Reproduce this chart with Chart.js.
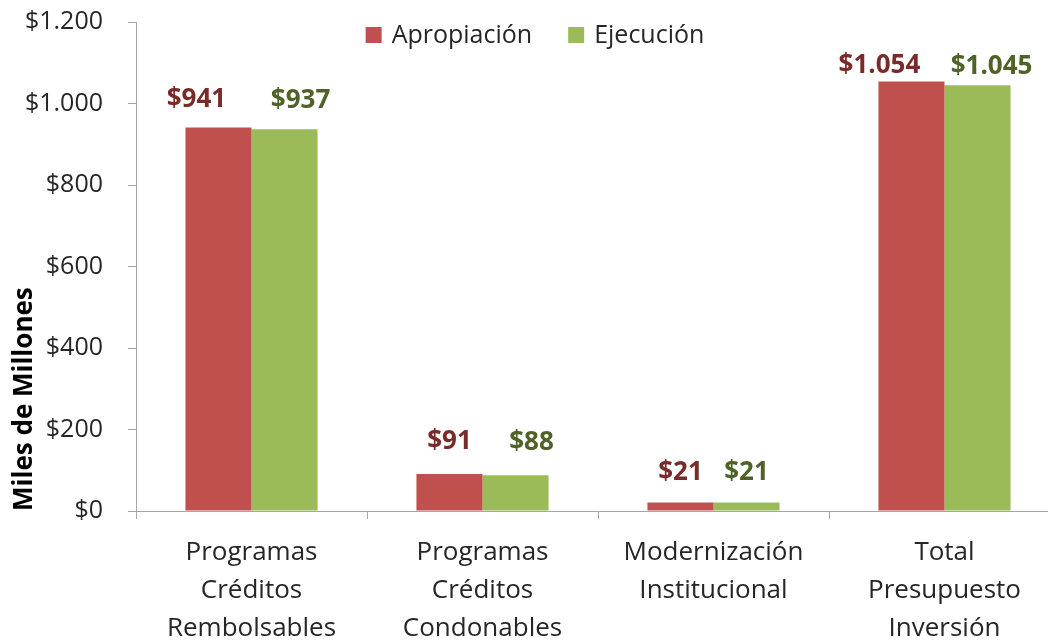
<!DOCTYPE html>
<html lang="es">
<head>
  <meta charset="UTF-8">
  <title>Apropiación vs Ejecución</title>
  <script src="https://cdn.jsdelivr.net/npm/chart.js"></script>
  <style>
    html, body { margin: 0; padding: 0; background: #fff; overflow: hidden; }
    #wrap { width: 1064px; height: 643px; }
  </style>
</head>
<body>
  <div id="wrap"><canvas id="grafico" width="1064" height="643"></canvas></div>

  <script>
    // Datos (miles de millones)
    const categorias = [
      ["Programas", "Créditos", "Rembolsables"],
      ["Programas", "Créditos", "Condonables"],
      ["Modernización", "Institucional"],
      ["Total", "Presupuesto", "Inversión"]
    ];
    const series = ["Apropiación", "Ejecución"];
    const apropiacion = [941, 91, 21, 1054];
    const ejecucion = [937, 88, 21, 1045];
    const ticksY = [0, 200, 400, 600, 800, 1000, 1200];

    const fuente = '"Open Sans", "DejaVu Sans", sans-serif';
    const colores = ["#C0504D", "#9BBB59"];
    const coloresEtiqueta = ["#772C2A", "#4F6228"];

    function pesos(n) {
      return "$" + String(n).replace(/\B(?=(\d{3})+(?!\d))/g, ".");
    }

    // etiquetas de valor encima de cada barra (desplazadas a mano como en el original)
    const etiquetas = {
      id: "etiquetas",
      afterDatasetsDraw(chart, args, opts) {
        const ctx = chart.ctx;
        ctx.save();
        ctx.font = "bold 26px " + fuente;
        ctx.textAlign = "center";
        ctx.textBaseline = "middle";
        chart.data.datasets.forEach((ds, i) => {
          const meta = chart.getDatasetMeta(i);
          meta.data.forEach((bar, j) => {
            const d = opts.desplazar[i][j];
            ctx.fillStyle = coloresEtiqueta[i];
            ctx.fillText(pesos(ds.data[j]), bar.x + d[0], bar.y - 30 + d[1]);
          });
        });
        ctx.restore();
      }
    };

    // leyenda propia (superpuesta al área del gráfico)
    const leyenda = {
      id: "leyenda",
      afterDraw(chart, args, opts) {
        const ctx = chart.ctx;
        ctx.save();
        ctx.font = "25px " + fuente;
        ctx.textBaseline = "middle";
        const caja = 16, sep = 10, hueco = 36;
        const anchos = chart.data.datasets.map(ds => caja + sep + ctx.measureText(ds.label).width);
        const total = anchos.reduce((a, b) => a + b, 0) + hueco * (anchos.length - 1);
        let x = opts.centroX - total / 2;
        chart.data.datasets.forEach((ds, i) => {
          ctx.fillStyle = ds.backgroundColor;
          ctx.fillRect(x, opts.y - caja / 2, caja, caja);
          ctx.fillStyle = "#262626";
          ctx.fillText(ds.label, x + caja + sep, opts.y + 1);
          x += anchos[i] + hueco;
        });
        ctx.restore();
      }
    };

    const ctx = document.getElementById("grafico").getContext("2d");
    new Chart(ctx, {
      type: "bar",
      data: {
        labels: categorias,
        datasets: [
          { label: series[0], data: apropiacion, backgroundColor: colores[0] },
          { label: series[1], data: ejecucion, backgroundColor: colores[1] }
        ]
      },
      options: {
        responsive: false,
        animation: false,
        layout: { padding: { top: 22, right: 4, left: 0, bottom: 0 } },
        datasets: { bar: { categoryPercentage: 0.572, barPercentage: 1 } },
        plugins: {
          legend: { display: false },
          tooltip: { enabled: false },
          leyenda: { centroX: 535, y: 35 },
          etiquetas: {
            desplazar: [
              [[-22, 2], [0, -2], [0, 0], [-32, 14]],
              [[16, 1], [16, -3], [0, 0], [14, 11]]
            ]
          }
        },
        scales: {
          x: {
            border: { color: "#A6A6A6", width: 1 },
            grid: { drawOnChartArea: false, drawTicks: true, tickLength: 8, color: "#A6A6A6", offset: true },
            ticks: {
              color: "#262626",
              padding: 15,
              maxRotation: 0,
              autoSkip: false,
              font: { family: fuente, size: 26, lineHeight: 1.46 }
            },
            afterFit(scale) { scale.height = 132; }
          },
          y: {
            min: ticksY[0],
            max: ticksY[ticksY.length - 1],
            afterBuildTicks(scale) { scale.ticks = ticksY.map(v => ({ value: v })); },
            border: { color: "#A6A6A6", width: 1 },
            grid: { drawOnChartArea: false, drawTicks: true, tickLength: 8, color: "#A6A6A6" },
            ticks: {
              color: "#262626",
              padding: 25,
              font: { family: fuente, size: 25 },
              callback: v => pesos(v)
            },
            title: {
              display: true,
              text: "Miles de Millones",
              align: "start",
              color: "#000",
              padding: { top: 9, bottom: 0 },
              font: { family: fuente, size: 26, weight: "bold" }
            },
            afterFit(scale) {
              scale.width = 136;
              scale.paddingTop = 0;
              scale.paddingBottom = 0;
            }
          }
        }
      },
      plugins: [etiquetas, leyenda]
    });
  </script>
</body>
</html>
